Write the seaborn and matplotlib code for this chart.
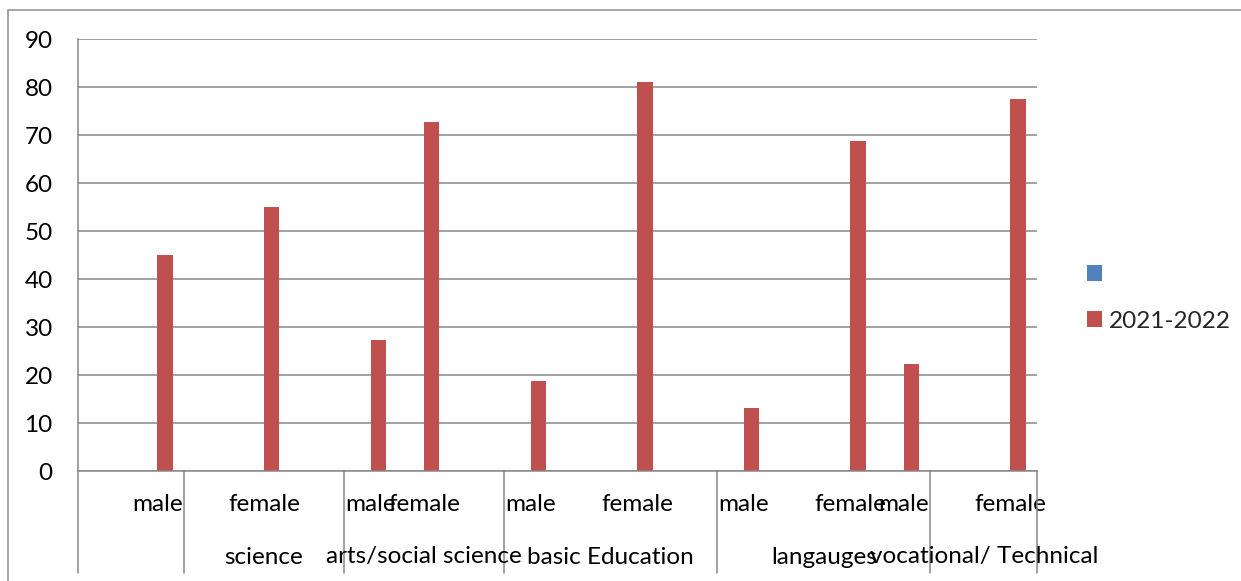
import numpy as np
import pandas as pd
import matplotlib
matplotlib.use("Agg")
import matplotlib.pyplot as plt
from matplotlib.lines import Line2D
from matplotlib.patches import Patch
from matplotlib.transforms import blended_transform_factory
import seaborn as sns

# ---- data -------------------------------------------------------------
slot_labels = ["", "male", "", "female", "", "male", "female", "", "male", "",
               "female", "", "male", "", "female", "male", "", "female"]
group_labels = ["", "science", "arts/social science", "basic Education",
                "langauges", "vocational/ Technical"]
group_sizes = [2, 3, 3, 4, 4, 2]
series_names = ["", "2021-2022"]
blank_values = [np.nan] * len(slot_labels)
values_2021_2022 = [np.nan, 45, np.nan, 55, np.nan, 27.3, 72.7, np.nan, 18.8, np.nan,
                    81.2, np.nan, 13.2, np.nan, 68.9, 22.4, np.nan, 77.6]
series_colors = ["#4F81BD", "#C0504D"]
y_ticks = list(range(0, 100, 10))

# ---- figure -----------------------------------------------------------
sns.set_style("white")
plt.rcParams["font.family"] = ["Lato", "DejaVu Sans"]
FS = 17.5
GRAY = "#878787"

W, H = 1241, 581
fig = plt.figure(figsize=(W / 100, H / 100), dpi=100)
ax_l, ax_r, ax_t, ax_b = 77.5, 1037, 39.3, 471.3
ax = fig.add_axes([ax_l / W, 1 - ax_b / H, (ax_r - ax_l) / W, (ax_b - ax_t) / H])

n = len(slot_labels)
df = pd.DataFrame({
    "slot": list(range(n)) * 2,
    "series": [series_names[0]] * n + [series_names[1]] * n,
    "value": blank_values + values_2021_2022,
})

sns.barplot(data=df, x="slot", y="value", hue="series", hue_order=series_names,
            order=list(range(n)), palette=series_colors, width=0.575, gap=0,
            dodge=True, saturation=1, linewidth=0, legend=False, ax=ax)

ax.set_xlim(-0.5, n - 0.5)
ax.set_ylim(0, 90)
ax.set_yticks(y_ticks)
ax.set_xlabel("")
ax.set_ylabel("")
ax.grid(axis="y", color=GRAY, linewidth=1.1)
ax.set_axisbelow(True)
for side in ("top", "right"):
    ax.spines[side].set_visible(False)
for side in ("left", "bottom"):
    ax.spines[side].set_color(GRAY)
    ax.spines[side].set_linewidth(1.1)

ax.tick_params(axis="y", length=5.8, width=1.1, color=GRAY, pad=12.0,
               labelsize=FS, labelcolor="black")

# inner category labels, centred in each slot
ax.set_xticks(range(n))
ax.set_xticklabels(slot_labels)
ax.tick_params(axis="x", which="major", length=0, pad=16, labelsize=FS,
               labelcolor="black")
# short dividers between every slot
ax.set_xticks(np.arange(-0.5, n, 1.0), minor=True)
ax.tick_params(axis="x", which="minor", length=36, width=1.1, color=GRAY,
               direction="out")

# outer group dividers and labels
axis_h = ax_b - ax_t
blend = blended_transform_factory(ax.transData, ax.transAxes)
bounds = np.concatenate([[0], np.cumsum(group_sizes)]) - 0.5
for b in bounds:
    ax.add_line(Line2D([b, b], [0, -101.5 / axis_h], transform=blend,
                       color=GRAY, linewidth=1.1, clip_on=False))
for label, lo, hi in zip(group_labels, bounds[:-1], bounds[1:]):
    if label:
        ax.text((lo + hi) / 2, -(557 - ax_b) / axis_h, label, transform=blend,
                ha="center", va="center", fontsize=FS, color="black")

# legend
handles = [Patch(facecolor=c, edgecolor="none") for c in series_colors]
fig.legend(handles, series_names, loc="center left",
           bbox_to_anchor=(1087 / W, 1 - 298 / H), frameon=False,
           fontsize=FS, handlelength=0.62, handleheight=0.62,
           handletextpad=0.3, labelspacing=1.05, borderpad=0, borderaxespad=0)

# chart area border
fig.add_artist(Line2D([8 / W, 1.01], [1 - 10 / H, 1 - 10 / H],
                      transform=fig.transFigure, color="#8f8f8f", linewidth=1.1))
fig.add_artist(Line2D([8 / W, 8 / W], [1 - 10 / H, -0.01],
                      transform=fig.transFigure, color="#8f8f8f", linewidth=1.1))

fig.savefig("out.png", dpi=100)
